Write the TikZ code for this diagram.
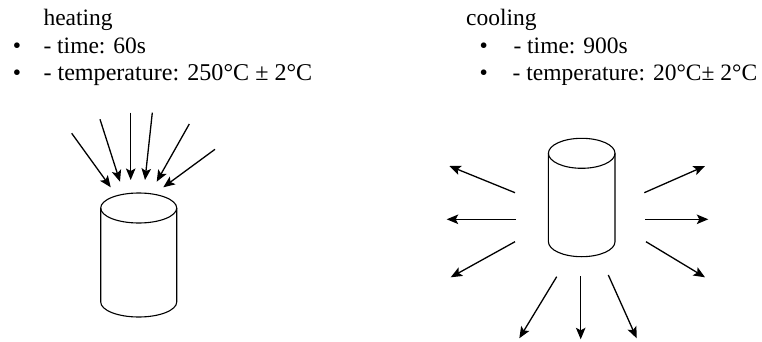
\documentclass[tikz,border=0pt]{standalone}
\usepackage{fontspec}
\setmainfont{Liberation Serif}
\usetikzlibrary{arrows.meta}
\begin{document}
\begin{tikzpicture}[x=1pt,y=-1pt,
  txt/.style={anchor=base west,inner sep=0pt,font=\fontsize{23.5}{28}\selectfont},
  txtw/.style={txt,font=\fontsize{24.1}{28}\selectfont},
  cyl/.style={line width=1.1pt,draw=black},
  ray/.style={line width=1.3pt,-{Stealth[length=11.5pt,width=9.5pt,inset=2.5pt]}}]
\useasboundingbox (0,0) rectangle (762,342);
% texts left
\node[txt] (hh) at (43.3,26) {heating};
\node[txt] (hb1) at (12.7,54) {•};
\node[txt] (ht) at (43.3,54) {- time: 60s};
\node[txt] (hb2) at (12.7,81) {•};
\node[txtw] (hT) at (43.3,81) {- temperature: 250°C ± 2°C};
% texts right
\node[txt] (ch) at (466,26) {cooling};
\node[txt] (cb1) at (479.3,54) {•};
\node[txt] (ct) at (513.3,54) {- time: 900s};
\node[txt] (cb2) at (479.3,81) {•};
\node[txt] (cT) at (512.5,81) {- temperature: 20°C± 2°C};
% left cylinder
\coordinate (L1) at (138.7,208);
\coordinate (L2) at (138.7,302);
\draw[cyl] (L1) ellipse [x radius=38pt, y radius=15pt];
\draw[cyl] ([xshift=-38pt]L1) -- ([xshift=-38pt]L2)
  arc[start angle=180,end angle=360,x radius=38pt,y radius=15pt] -- ([xshift=38pt]L1);
% right cylinder
\coordinate (R1) at (581.7,153.3);
\coordinate (R2) at (581.7,241.7);
\draw[cyl] (R1) ellipse [x radius=33.3pt, y radius=15pt];
\draw[cyl] ([xshift=-33.3pt]R1) -- ([xshift=-33.3pt]R2)
  arc[start angle=180,end angle=360,x radius=33.3pt,y radius=15pt] -- ([xshift=33.3pt]R1);
% heating arrows
\coordinate (ha1) at (71.7,133.3); \coordinate (hz1) at (110.7,187.3);
\coordinate (ha2) at (100,119.3);  \coordinate (hz2) at (120,181.7);
\coordinate (ha3) at (130.7,112.7); \coordinate (hz3) at (130.7,180);
\coordinate (ha4) at (152.3,112.7); \coordinate (hz4) at (145,180);
\coordinate (ha5) at (189.3,124);  \coordinate (hz5) at (156.7,181.7);
\coordinate (ha6) at (215,149.3);  \coordinate (hz6) at (163.3,187.3);
\foreach \i in {1,...,6} \draw[ray] (ha\i) -- (hz\i);
% cooling arrows
\coordinate (ca1) at (515,192.7); \coordinate (cz1) at (449.3,166);
\coordinate (ca2) at (516,219.3); \coordinate (cz2) at (446.7,219.3);
\coordinate (ca3) at (515,241.7); \coordinate (cz3) at (450.7,277.3);
\coordinate (ca4) at (644.3,192.7); \coordinate (cz4) at (705,166);
\coordinate (ca5) at (645.3,219.3); \coordinate (cz5) at (708.3,219.3);
\coordinate (ca6) at (646,241.7); \coordinate (cz6) at (705,277.3);
\coordinate (ca7) at (556.7,276.7); \coordinate (cz7) at (519.3,338.3);
\coordinate (ca8) at (580.7,276); \coordinate (cz8) at (580.7,339.3);
\coordinate (ca9) at (608.3,275); \coordinate (cz9) at (636.7,338.3);
\foreach \i in {1,...,9} \draw[ray] (ca\i) -- (cz\i);
\end{tikzpicture}
\end{document}
